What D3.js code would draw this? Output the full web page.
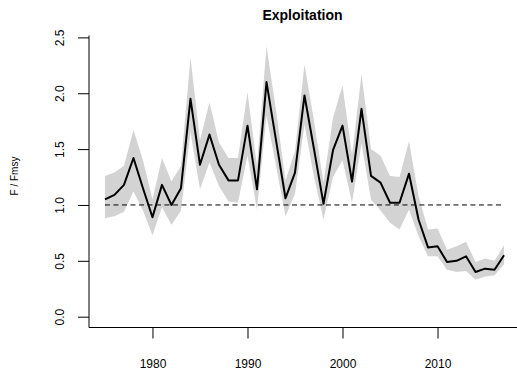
<!DOCTYPE html>
<html>
<head>
<meta charset="utf-8">
<script src="https://cdn.jsdelivr.net/npm/d3@7"></script>
<style>
    body { margin: 0; background: #fff; }
    svg { display: block; font-family: "Liberation Sans", Arial, sans-serif; }
</style>
</head>
<body>
<div id="chart"></div>
<script>
const years = d3.range(1975, 2018);
const fRatio = [1.05, 1.09, 1.18, 1.42, 1.15, 0.89, 1.18, 1.00, 1.15, 1.95,
    1.36, 1.63, 1.36, 1.22, 1.22, 1.71, 1.14, 2.10, 1.58, 1.06,
    1.29, 1.98, 1.50, 1.01, 1.49, 1.71, 1.21, 1.86, 1.26, 1.20,
    1.02, 1.02, 1.28, 0.87, 0.62, 0.63, 0.49, 0.50, 0.54, 0.40,
    0.43, 0.42, 0.55];
const upper = [1.26, 1.29, 1.35, 1.67, 1.40, 1.05, 1.42, 1.21, 1.35, 2.32,
    1.58, 1.92, 1.56, 1.42, 1.42, 2.01, 1.35, 2.42, 1.85, 1.22,
    1.48, 2.26, 1.75, 1.20, 1.78, 2.07, 1.45, 2.17, 1.50, 1.44,
    1.26, 1.25, 1.57, 1.08, 0.78, 0.79, 0.60, 0.63, 0.67, 0.49,
    0.52, 0.50, 0.64];
const lower = [0.88, 0.90, 0.94, 1.12, 0.95, 0.73, 0.98, 0.82, 0.95, 1.65,
    1.14, 1.38, 1.17, 1.03, 1.02, 1.44, 0.96, 1.80, 1.35, 0.90,
    1.10, 1.72, 1.25, 0.87, 1.25, 1.40, 1.02, 1.55, 1.05, 0.95,
    0.84, 0.78, 0.96, 0.72, 0.54, 0.54, 0.42, 0.40, 0.41, 0.33,
    0.36, 0.37, 0.47];
const xTicks = [1980, 1990, 2000, 2010];
const yTicks = [0, 0.5, 1, 1.5, 2, 2.5];
const refLevel = 1;

const width = 517, height = 376;
const data = years.map((y, i) => ({ year: y, f: fRatio[i], hi: upper[i], lo: lower[i] }));

// R-style 4% axis expansion
const xr = [d3.min(years), d3.max(years)];
const xPad = (xr[1] - xr[0]) * 0.04;
const yr = [0, d3.max(upper)];
const yPad = (yr[1] - yr[0]) * 0.04;

const xScale = d3.scaleLinear()
    .domain([xr[0] - xPad, xr[1] + xPad])
    .range([89, 520]);
const yScale = d3.scaleLinear()
    .domain([yr[0] - yPad, yr[1] + yPad])
    .range([327.5, 35.5]);

const svg = d3.select('#chart').append('svg')
    .attr('width', width)
    .attr('height', height);

// confidence band
svg.append('path')
    .datum(data)
    .attr('fill', '#d3d3d3')
    .attr('d', d3.area()
        .x(d => xScale(d.year))
        .y0(d => yScale(d.lo))
        .y1(d => yScale(d.hi)));

// reference line F = Fmsy
svg.append('line')
    .attr('x1', xScale(xr[0]))
    .attr('x2', xScale(xr[1]))
    .attr('y1', yScale(refLevel))
    .attr('y2', yScale(refLevel))
    .attr('stroke', '#000')
    .attr('stroke-width', 1)
    .attr('stroke-dasharray', '5,3.5');

svg.append('path')
    .datum(data)
    .attr('fill', 'none')
    .attr('stroke', '#000')
    .attr('stroke-width', 2)
    .attr('stroke-linejoin', 'round')
    .attr('d', d3.line()
        .x(d => xScale(d.year))
        .y(d => yScale(d.f)));

// axes (bty = "l")
const xAxis = svg.append('g')
    .attr('transform', `translate(0, ${yScale.range()[0]})`)
    .call(d3.axisBottom(xScale).tickValues(xTicks).tickSize(11).tickPadding(21).tickFormat(d3.format('d')));
const yAxis = svg.append('g')
    .attr('transform', `translate(${xScale.range()[0]}, 0)`)
    .call(d3.axisLeft(yScale).tickValues(yTicks).tickSize(11).tickFormat(d3.format('.1f')));

[xAxis, yAxis].forEach(g => {
    g.select('.domain').remove();
    g.selectAll('.tick line').attr('stroke', '#000');
    g.selectAll('text').attr('fill', '#000').style('font-size', '12px');
});

yAxis.selectAll('.tick text')
    .attr('x', null).attr('dy', null)
    .attr('text-anchor', 'middle')
    .attr('transform', 'translate(-29, 0) rotate(-90)')
    .attr('dy', '0.35em');

svg.append('line')
    .attr('x1', xScale.range()[0]).attr('x2', xScale.range()[1])
    .attr('y1', yScale.range()[0]).attr('y2', yScale.range()[0])
    .attr('stroke', '#000');
svg.append('line')
    .attr('x1', xScale.range()[0]).attr('x2', xScale.range()[0])
    .attr('y1', yScale.range()[0]).attr('y2', yScale.range()[1])
    .attr('stroke', '#000');

svg.append('text')
    .attr('x', (xScale.range()[0] + xScale.range()[1]) / 2 - 2)
    .attr('y', 20)
    .attr('text-anchor', 'middle')
    .style('font-size', '14px')
    .style('font-weight', 'bold')
    .text('Exploitation');

svg.append('text')
    .attr('transform', 'translate(18, 176) rotate(-90)')
    .attr('text-anchor', 'middle')
    .style('font-size', '10px')
    .text('F / Fmsy');
</script>
</body>
</html>
